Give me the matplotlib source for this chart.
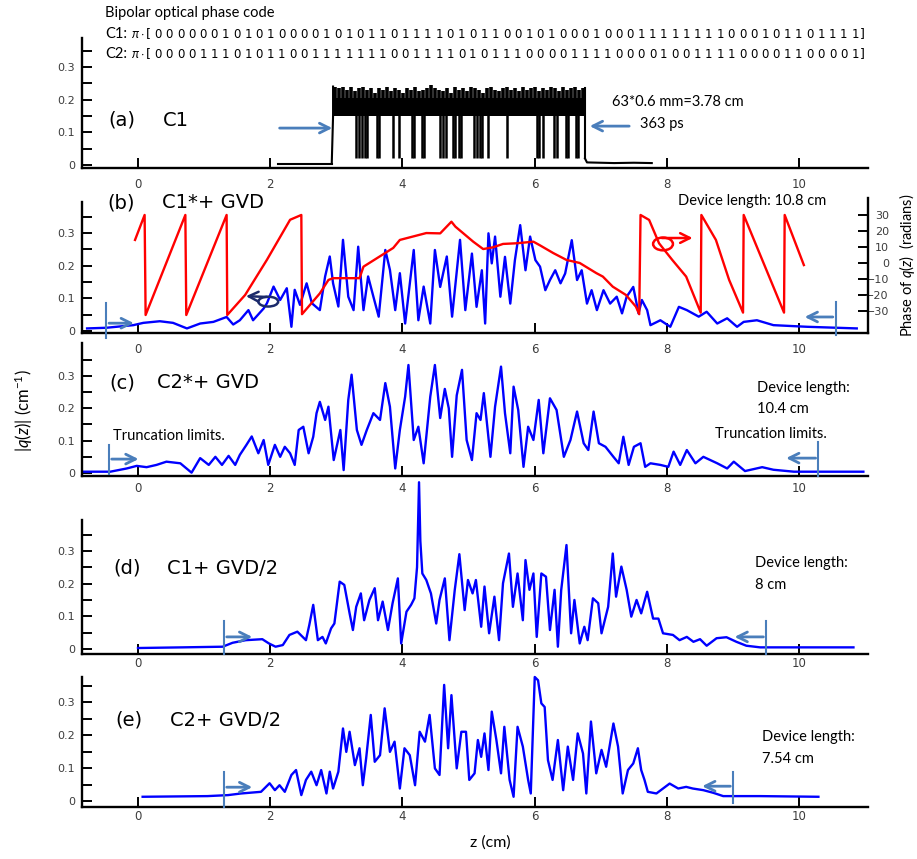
import matplotlib
matplotlib.use('Agg')
import matplotlib.pyplot as plt
from matplotlib.patches import Ellipse
from matplotlib.ticker import FixedLocator, FixedFormatter

W, H = 917, 859
plt.rcParams['font.family'] = ['DejaVu Sans']
plt.rcParams['mathtext.fontset'] = 'custom'
plt.rcParams['mathtext.it'] = 'Lato:italic'
plt.rcParams['mathtext.rm'] = 'Lato'

# ---------------- data ----------------
c1_code = "0 0 0 0 0 0 1 0 1 0 1 0 0 0 0 1 0 1 0 1 1 0 1 1 1 1 0 1 0 1 1 0 0 1 0 1 0 0 0 1 0 0 0 1 1 1 1 1 1 1 1 0 0 0 1 0 1 1 0 1 1 1 1".split()
c2_code = "0 0 0 0 1 1 1 0 1 0 1 1 0 0 1 1 1 1 1 1 1 0 0 1 1 1 1 0 1 0 1 1 1 0 0 0 0 1 1 1 1 0 0 0 0 1 0 0 1 1 1 1 0 0 0 0 1 1 0 0 0 0 1".split()

# (a) C1 : flat lead-in / lead-out, dense band between 2.95 and 6.76 cm
a_pre_z = [2.12, 2.93]
a_pre_q = [0.004, 0.004]
a_post_z = [6.76, 6.79, 7.2, 7.5, 7.77]
a_post_q = [0.02, 0.008, 0.006, 0.007, 0.006]
a_start, a_end = 2.95, 6.76
a_band_low = 0.15
# peak height of the band in each of the 63 chips
a_chip_top = [0.24, 0.235, 0.24, 0.23, 0.24, 0.225, 0.235, 0.24, 0.23, 0.235,
              0.22, 0.235, 0.23, 0.24, 0.225, 0.235, 0.23, 0.22, 0.235, 0.23,
              0.24, 0.225, 0.23, 0.235, 0.245, 0.235, 0.23, 0.225, 0.235, 0.22,
              0.24, 0.23, 0.235, 0.225, 0.24, 0.235, 0.23, 0.22, 0.235, 0.24,
              0.23, 0.225, 0.235, 0.24, 0.23, 0.235, 0.225, 0.24, 0.23, 0.235,
              0.24, 0.225, 0.235, 0.23, 0.24, 0.235, 0.225, 0.24, 0.23, 0.235,
              0.24, 0.23, 0.235]
a_dips = [3.3, 3.34, 3.38, 3.43, 3.46, 3.62, 3.65, 3.85, 3.95, 4.15, 4.18, 4.3, 4.33, 4.57, 4.62,
          4.66, 4.76, 4.8, 4.85, 4.88, 5.08, 5.12, 5.17, 5.2, 5.3, 5.58, 6.03, 6.07, 6.13, 6.29,
          6.33, 6.47, 6.5, 6.62, 6.66]
a_dip_low = 0.02

# (b) C1* + GVD
b_z = [-0.77, -0.48, -0.07, 0.08, 0.33, 0.53, 0.74, 0.94, 1.14, 1.34,
       1.44, 1.54, 1.67, 1.74, 1.9, 1.95, 2.05, 2.15, 2.25, 2.32,
       2.37, 2.45, 2.55, 2.63, 2.75, 2.83, 2.9, 2.95, 3.03, 3.1,
       3.18, 3.26, 3.33, 3.41, 3.48, 3.56, 3.64, 3.74, 3.81, 3.89,
       3.96, 4.04, 4.17, 4.24, 4.32, 4.42, 4.49, 4.57, 4.67, 4.75,
       4.87, 4.95, 5.05, 5.12, 5.2, 5.25, 5.3, 5.35, 5.4, 5.48,
       5.55, 5.63, 5.7, 5.78, 5.86, 5.93, 6.01, 6.08, 6.16, 6.23,
       6.31, 6.39, 6.46, 6.56, 6.64, 6.71, 6.79, 6.86, 6.94, 7.04,
       7.14, 7.24, 7.32, 7.39, 7.49, 7.57, 7.62, 7.7, 7.75, 7.9,
       8.05, 8.18, 8.3, 8.48, 8.6, 8.76, 8.91, 9.06, 9.16, 9.36,
       9.61, 10.12, 10.87]
b_q = [0.008, 0.01, 0.018, 0.025, 0.03, 0.025, 0.008, 0.023, 0.028, 0.043,
       0.02, 0.033, 0.064, 0.033, 0.069, 0.085, 0.136, 0.095, 0.131, 0.013,
       0.126, 0.08, 0.146, 0.085, 0.064, 0.167, 0.228, 0.146, 0.075, 0.279,
       0.105, 0.064, 0.258, 0.064, 0.167, 0.105, 0.044, 0.248, 0.187, 0.064,
       0.177, 0.023, 0.248, 0.033, 0.136, 0.023, 0.248, 0.135, 0.228, 0.044,
       0.279, 0.064, 0.237, 0.074, 0.186, 0.023, 0.299, 0.207, 0.289, 0.105,
       0.227, 0.084, 0.217, 0.324, 0.186, 0.289, 0.217, 0.197, 0.125, 0.156,
       0.186, 0.146, 0.176, 0.278, 0.156, 0.186, 0.084, 0.125, 0.064, 0.125,
       0.084, 0.105, 0.054, 0.105, 0.135, 0.054, 0.095, 0.064, 0.018, 0.033,
       0.013, 0.074, 0.064, 0.044, 0.059, 0.023, 0.039, 0.013, 0.028, 0.033,
       0.018, 0.013, 0.008]
ph_z = [-0.045, 0.10, 0.115, 0.716, 0.73, 1.34, 1.35, 1.62, 1.95, 2.3,
        2.47, 2.48, 2.75, 2.88, 2.95, 3.35, 3.41, 3.86, 3.96, 4.36,
        4.57, 4.74, 4.8, 5.07, 5.22, 5.37, 5.52, 5.72, 5.98, 6.08,
        6.28, 6.48, 6.68, 6.93, 7.03, 7.18, 7.38, 7.53, 7.58, 7.6,
        7.73, 7.88, 8.08, 8.29, 8.51, 8.52, 8.74, 8.94, 9.15, 9.16,
        9.77, 9.78, 10.07]
ph = [14.4, 30, -32.5, 30, -32.5, 30, -32.5, -20, 2, 27,
      30, -32, -19, -10.6, -9.5, -9.5, -2.3, 9.4, 14.4, 18.7,
      18.5, 25.8, 22.7, 13.3, 8.7, 9.8, 11.9, 12.3, 13.3, 11,
      6.2, 1.9, 0, -6.3, -8.5, -14.8, -20, -27.3, -32, 30,
      26.9, 12.3, 1.9, -8.5, -31, 30, 14.4, -10.6, -31, 30,
      -31, 30, -1.3]

# (c) C2* + GVD
c_z = [-0.83, -0.42, -0.17, -0.02, 0.13, 0.28, 0.43, 0.64, 0.81, 0.94,
       1.07, 1.17, 1.27, 1.37, 1.47, 1.54, 1.64, 1.72, 1.82, 1.9,
       1.97, 2.07, 2.15, 2.22, 2.3, 2.37, 2.43, 2.5, 2.58, 2.65,
       2.7, 2.75, 2.83, 2.88, 2.96, 3.06, 3.11, 3.18, 3.23, 3.31,
       3.38, 3.46, 3.56, 3.66, 3.74, 3.81, 3.89, 3.96, 4.04, 4.09,
       4.17, 4.24, 4.32, 4.42, 4.49, 4.57, 4.64, 4.7, 4.75, 4.82,
       4.9, 4.97, 5.05, 5.12, 5.18, 5.23, 5.33, 5.4, 5.49, 5.55,
       5.63, 5.68, 5.75, 5.83, 5.9, 5.98, 6.06, 6.13, 6.23, 6.33,
       6.44, 6.54, 6.64, 6.74, 6.81, 6.89, 6.97, 7.07, 7.19, 7.27,
       7.34, 7.42, 7.5, 7.6, 7.67, 7.75, 7.9, 8.02, 8.1, 8.2,
       8.3, 8.43, 8.55, 8.76, 8.91, 9.01, 9.18, 9.44, 9.61, 9.92,
       10.97]
c_q = [0.004, 0.004, 0.014, 0.022, 0.018, 0.025, 0.035, 0.03, 0.001, 0.046,
       0.025, 0.05, 0.025, 0.053, 0.025, 0.056, 0.087, 0.113, 0.061, 0.102,
       0.025, 0.087, 0.05, 0.081, 0.061, 0.025, 0.133, 0.143, 0.061, 0.112,
       0.185, 0.22, 0.164, 0.205, 0.04, 0.133, 0.009, 0.226, 0.304, 0.133,
       0.087, 0.133, 0.185, 0.164, 0.278, 0.205, 0.014, 0.133, 0.236, 0.334,
       0.102, 0.143, 0.03, 0.236, 0.334, 0.17, 0.26, 0.2, 0.05, 0.24,
       0.319, 0.102, 0.04, 0.185, 0.164, 0.247, 0.05, 0.205, 0.329, 0.185,
       0.061, 0.267, 0.195, 0.019, 0.143, 0.102, 0.226, 0.061, 0.231, 0.195,
       0.05, 0.102, 0.19, 0.092, 0.071, 0.19, 0.092, 0.081, 0.05, 0.03,
       0.112, 0.025, 0.081, 0.092, 0.019, 0.03, 0.025, 0.019, 0.066, 0.025,
       0.071, 0.03, 0.05, 0.03, 0.014, 0.035, 0.006, 0.018, 0.01, 0.004,
       0.004]

# (d) C1 + GVD/2
d_z = [0.0, 0.67, 1.28, 1.43, 1.63, 1.88, 1.98, 2.08, 2.19, 2.29,
       2.41, 2.54, 2.59, 2.65, 2.72, 2.79, 2.84, 2.92, 2.97, 3.05,
       3.12, 3.2, 3.25, 3.3, 3.37, 3.42, 3.5, 3.58, 3.63, 3.7,
       3.78, 3.85, 3.93, 3.98, 4.06, 4.13, 4.18, 4.22, 4.25, 4.27,
       4.3, 4.36, 4.43, 4.51, 4.56, 4.64, 4.71, 4.79, 4.86, 4.94,
       4.99, 5.06, 5.11, 5.19, 5.24, 5.31, 5.39, 5.46, 5.52, 5.61,
       5.67, 5.74, 5.82, 5.86, 5.92, 5.98, 6.03, 6.1, 6.17, 6.23,
       6.3, 6.35, 6.4, 6.48, 6.55, 6.6, 6.68, 6.75, 6.8, 6.88,
       6.96, 7.01, 7.11, 7.18, 7.23, 7.31, 7.39, 7.46, 7.54, 7.61,
       7.7, 7.79, 7.87, 7.94, 8.09, 8.19, 8.3, 8.4, 8.5, 8.6,
       8.75, 8.9, 9.05, 9.2, 9.41, 10.82]
d_q = [0.003, 0.005, 0.007, 0.019, 0.027, 0.03, 0.017, 0.007, 0.012, 0.043,
       0.053, 0.027, 0.073, 0.135, 0.027, 0.037, 0.017, 0.063, 0.078, 0.206,
       0.196, 0.109, 0.058, 0.129, 0.17, 0.088, 0.15, 0.186, 0.088, 0.145,
       0.058, 0.14, 0.216, 0.017, 0.114, 0.135, 0.155, 0.25, 0.51, 0.33,
       0.231, 0.211, 0.17, 0.078, 0.15, 0.216, 0.027, 0.18, 0.29, 0.119,
       0.211, 0.17, 0.211, 0.068, 0.191, 0.048, 0.16, 0.027, 0.201, 0.292,
       0.129, 0.231, 0.088, 0.272, 0.181, 0.231, 0.037, 0.231, 0.221, 0.058,
       0.181, 0.007, 0.18, 0.318, 0.048, 0.15, 0.017, 0.068, 0.027, 0.155,
       0.14, 0.048, 0.129, 0.292, 0.16, 0.252, 0.181, 0.099, 0.15, 0.109,
       0.175, 0.093, 0.093, 0.048, 0.043, 0.027, 0.037, 0.022, 0.03, 0.01,
       0.033, 0.036, 0.022, 0.01, 0.005, 0.005]

# (e) C2 + GVD/2
e_z = [0.07, 1.05, 1.36, 1.56, 1.86, 1.99, 2.07, 2.14, 2.22, 2.32,
       2.39, 2.47, 2.54, 2.62, 2.7, 2.77, 2.85, 2.9, 2.95, 3.03,
       3.1, 3.15, 3.2, 3.28, 3.35, 3.4, 3.45, 3.52, 3.58, 3.66,
       3.73, 3.81, 3.88, 3.96, 4.03, 4.11, 4.19, 4.26, 4.34, 4.41,
       4.49, 4.56, 4.63, 4.69, 4.74, 4.82, 4.89, 4.96, 5.01, 5.09,
       5.14, 5.19, 5.24, 5.3, 5.35, 5.42, 5.49, 5.54, 5.62, 5.68,
       5.74, 5.82, 5.9, 5.94, 6.0, 6.05, 6.1, 6.15, 6.2, 6.27,
       6.35, 6.43, 6.5, 6.58, 6.65, 6.73, 6.78, 6.85, 6.93, 7.01,
       7.08, 7.19, 7.26, 7.33, 7.41, 7.49, 7.56, 7.61, 7.66, 7.71,
       7.84, 7.94, 8.04, 8.17, 8.29, 8.39, 8.55, 8.7, 8.85, 9.41,
       10.29]
e_q = [0.013, 0.015, 0.018, 0.023, 0.028, 0.054, 0.033, 0.048, 0.028, 0.079,
       0.094, 0.018, 0.064, 0.089, 0.048, 0.094, 0.023, 0.089, 0.038, 0.089,
       0.22, 0.149, 0.21, 0.109, 0.16, 0.048, 0.129, 0.261, 0.119, 0.139,
       0.281, 0.149, 0.18, 0.038, 0.16, 0.139, 0.048, 0.21, 0.18, 0.261,
       0.099, 0.079, 0.352, 0.16, 0.321, 0.099, 0.21, 0.21, 0.064, 0.084,
       0.185, 0.134, 0.205, 0.094, 0.271, 0.185, 0.084, 0.225, 0.064, 0.013,
       0.225, 0.165, 0.064, 0.023, 0.376, 0.366, 0.296, 0.285, 0.124, 0.064,
       0.185, 0.033, 0.165, 0.064, 0.205, 0.144, 0.023, 0.241, 0.084, 0.155,
       0.104, 0.235, 0.165, 0.023, 0.094, 0.114, 0.16, 0.094, 0.064, 0.028,
       0.023, 0.038, 0.053, 0.038, 0.043, 0.038, 0.033, 0.025, 0.015, 0.015,
       0.013]

x_ticks = [0, 2, 4, 6, 8, 10]
y_ticks = [0, 0.1, 0.2, 0.3]
y_ticklabels = ['0', '0.1', '0.2', '0.3']
y_minor = [0.05, 0.15, 0.25, 0.35]

# ---------------- figure ----------------
fig = plt.figure(figsize=(W / 100, H / 100), dpi=100)
BLUE = '#0000ff'
RED = '#ff0000'
MARK = '#4a7ebb'
NAVY = '#1b2a6b'
TICKC = '#3c3c3c'
CAL = ['Lato', 'DejaVu Sans']
ARROW = '->,head_length=0.7,head_width=0.35'


def ftext(x, y, s, **kw):
    return fig.text(x / W, 1 - y / H, s, **kw)


def make_ax(top, bottom, ylo, yhi, spine_top, xpad):
    ax = fig.add_axes([82 / W, 1 - bottom / H, (868 - 82) / W, (bottom - top) / H])
    ax.set_xlim(-0.847, 11.04)
    ax.set_ylim(ylo, yhi)
    ax.patch.set_alpha(0)
    for s in ['top', 'right']:
        ax.spines[s].set_visible(False)
    for s in ['left', 'bottom']:
        ax.spines[s].set_linewidth(1.7)
    ax.spines['left'].set_bounds(ylo, spine_top)
    ax.xaxis.set_major_locator(FixedLocator(x_ticks))
    ax.yaxis.set_major_locator(FixedLocator(y_ticks))
    ax.yaxis.set_major_formatter(FixedFormatter(y_ticklabels))
    ax.yaxis.set_minor_locator(FixedLocator([m for m in y_minor if m <= spine_top]))
    ax.tick_params(axis='x', direction='in', length=7, width=1.4, pad=xpad,
                   labelsize=8.5, labelcolor=TICKC)
    ax.tick_params(axis='y', which='both', direction='in', length=7, width=1.4, pad=5,
                   labelsize=8, labelcolor=TICKC)
    return ax


def trunc(ax, zline, ylo, yhi, zarrow, yarr):
    ax.plot([zline, zline], [ylo, yhi], color=MARK, lw=1.5, clip_on=False, zorder=5)
    ax.annotate('', xy=(zarrow, yarr), xytext=(zline, yarr),
                arrowprops=dict(arrowstyle=ARROW, color=MARK, lw=2),
                zorder=5, annotation_clip=False)


# ----- (a)
axa = make_ax(37.5, 168.3, -0.01, 0.39, 0.39, 7)
axa.plot(a_pre_z, a_pre_q, color='black', lw=1.5)
axa.plot(a_post_z, a_post_q, color='black', lw=1.5)
n_chip = len(a_chip_top)
chip_w = (a_end - a_start) / n_chip
chip_z = [a_start + (i + 0.5) * chip_w for i in range(n_chip)]
axa.fill_between([a_start, a_end], a_band_low, 0.205, color='black', lw=0)
axa.vlines(chip_z, a_band_low, a_chip_top, color='black', lw=2.6)
axa.plot([a_pre_z[-1], a_start, a_start], [a_pre_q[-1], a_band_low, a_chip_top[0]], color='black', lw=1.5)
axa.plot([a_end, a_end], [a_chip_top[-1], a_post_q[0]], color='black', lw=1.5)
axa.vlines(a_dips, a_dip_low, a_band_low + 0.01, color='black', lw=1.8)
axa.annotate('', xy=(2.98, 0.113), xytext=(2.10, 0.113),
             arrowprops=dict(arrowstyle=ARROW, color=MARK, lw=2))
axa.annotate('', xy=(6.79, 0.119), xytext=(7.47, 0.119),
             arrowprops=dict(arrowstyle=ARROW, color=MARK, lw=2))

# ----- (b)
axb = make_ax(198, 333, -0.006, 0.407, 0.394, 7)
axb.plot(b_z, b_q, color=BLUE, lw=1.7)
axr = axb.twinx()
axr.set_position(axb.get_position())
axr.set_ylim(-43.75, 40.6)
axr.patch.set_alpha(0)
for s in ['top', 'left', 'bottom']:
    axr.spines[s].set_visible(False)
axr.spines['right'].set_linewidth(1.7)
axr.plot(ph_z, ph, color=RED, lw=1.7)
axr.yaxis.set_major_locator(FixedLocator([-30, -20, -10, 0, 10, 20, 30]))
axr.tick_params(axis='y', direction='in', length=7, width=1.4, pad=15, labelsize=8, labelcolor=TICKC)
for lab in axr.get_yticklabels():
    lab.set_horizontalalignment('right')
axr.add_patch(Ellipse((7.94, 11.9), 0.3, 8, fill=False, edgecolor=RED, lw=1.8))
axr.annotate('', xy=(8.43, 15.6), xytext=(7.88, 15.6),
             arrowprops=dict(arrowstyle=ARROW, color=RED, lw=1.8))
axb.add_patch(Ellipse((1.97, 0.09), 0.3, 0.03, fill=False, edgecolor=NAVY, lw=1.8, zorder=6))
axb.annotate('', xy=(1.59, 0.107), xytext=(1.99, 0.104),
             arrowprops=dict(arrowstyle=ARROW, color=NAVY, lw=1.8), zorder=6)
trunc(axb, -0.48, -0.021, 0.086, -0.02, 0.024)
trunc(axb, 10.55, -0.012, 0.089, 10.04, 0.043)

# ----- (c)
axc = make_ax(343, 476, -0.0093, 0.402, 0.402, 4)
axc.plot(c_z, c_q, color=BLUE, lw=1.7)
trunc(axc, -0.44, -0.003, 0.087, 0.05, 0.043)
trunc(axc, 10.29, -0.009, 0.096, 9.76, 0.046)

# ----- (d)
axd = make_ax(478, 654, -0.0153, 0.523, 0.395, 2)
axd.plot(d_z, d_q, color=BLUE, lw=1.7)
trunc(axd, 1.3, -0.015, 0.086, 1.77, 0.037)
trunc(axd, 9.5, -0.015, 0.086, 8.98, 0.037)

# ----- (e)
axe = make_ax(675, 807, -0.018, 0.382, 0.375, 2)
axe.plot(e_z, e_q, color=BLUE, lw=1.7)
trunc(axe, 1.3, -0.018, 0.088, 1.77, 0.042)
trunc(axe, 9.0, -0.006, 0.088, 8.49, 0.045)

# ---------------- texts ----------------
ftext(105, 13, 'Bipolar optical phase code', fontsize=10.5, family=CAL, va='center')
for label, code, yy in [('C1:', c1_code, 34), ('C2:', c2_code, 54)]:
    ftext(105, yy, label, fontsize=10.5, family=CAL, va='center')
    ftext(131, yy, r'$\pi\cdot$[', fontsize=9, va='center')
    step = (855 - 158) / (len(code) - 1)
    for i, b in enumerate(code):
        ftext(158 + i * step, yy, b, fontsize=8.5, ha='center', va='center')
    ftext(860, yy, ']', fontsize=9, va='center')

panel_labels = [('(a)', 'C1', 108, 163, 120), ('(b)', 'C1*+ GVD', 107, 162, 203),
                ('(c)', 'C2*+ GVD', 109, 157, 383), ('(d)', 'C1+ GVD/2', 113, 167, 568),
                ('(e)', 'C2+ GVD/2', 115, 170, 720)]
for p, t, x1, x2, yy in panel_labels:
    ftext(x1, yy, p, fontsize=14, va='center')
    ftext(x2, yy, t, fontsize=14, va='center')

ftext(612, 102, '63*0.6 mm=3.78 cm', fontsize=10.5, family=CAL, va='center')
ftext(640, 124, '363 ps', fontsize=10.5, family=CAL, va='center')
ftext(678, 201, 'Device length: 10.8 cm', fontsize=10.5, family=CAL, va='center')
ftext(757, 388, 'Device length:', fontsize=10.5, family=CAL, va='center')
ftext(757, 409, '10.4 cm', fontsize=10.5, family=CAL, va='center')
ftext(113, 436, 'Truncation limits.', fontsize=10.5, family=CAL, va='center')
ftext(715, 434, 'Truncation limits.', fontsize=10.5, family=CAL, va='center')
ftext(755, 563, 'Device length:', fontsize=10.5, family=CAL, va='center')
ftext(755, 585, '8 cm', fontsize=10.5, family=CAL, va='center')
ftext(762, 737, 'Device length:', fontsize=10.5, family=CAL, va='center')
ftext(762, 759, '7.54 cm', fontsize=10.5, family=CAL, va='center')

ftext(24, 411, r'$|q(z)|$ (cm$^{-1}$)', fontsize=12, family=CAL, rotation=90, ha='center', va='center')
ftext(907, 265, r'Phase of $q(z)$  (radians)', fontsize=10.5, family=CAL, rotation=90, ha='center', va='center')
ftext(490, 843, 'z (cm)', fontsize=11.5, family=CAL, ha='center', va='center')

fig.savefig('out.png', dpi=100)
